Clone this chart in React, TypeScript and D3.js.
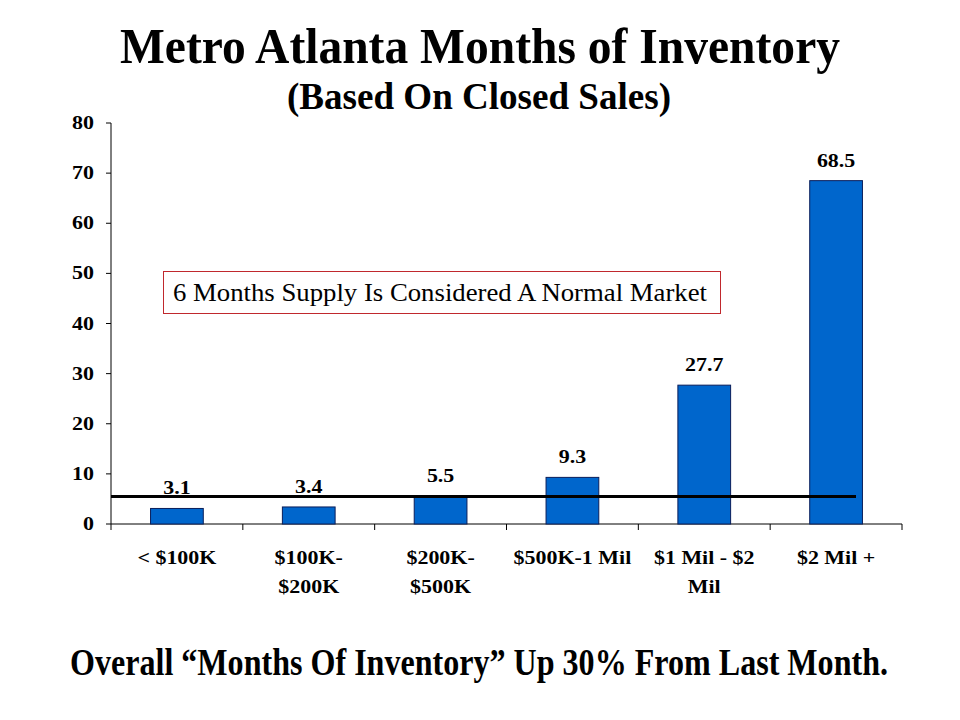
import React from "react";
import * as d3 from "d3";

const categories: string[][] = [
  ["< $100K"],
  ["$100K-", "$200K"],
  ["$200K-", "$500K"],
  ["$500K-1 Mil"],
  ["$1 Mil - $2", "Mil"],
  ["$2 Mil +"],
];
const values: number[] = [3.1, 3.4, 5.5, 9.3, 27.7, 68.5];
const valueLabels: string[] = ["3.1", "3.4", "5.5", "9.3", "27.7", "68.5"];
const yTicks: number[] = [0, 10, 20, 30, 40, 50, 60, 70, 80];
const normalLevel = 5.5;
const title = "Metro Atlanta Months of Inventory";
const subtitle = "(Based On Closed Sales)";
const note = "6 Months Supply Is Considered A Normal Market";
const footer = "Overall \u201CMonths Of Inventory\u201D Up 30% From Last Month.";

export default function App() {
  const W = 960, H = 720;
  const left = 111, right = 902, top = 123, bottom = 524;
  const x = d3.scaleBand<number>().domain(d3.range(values.length)).range([left, right]).padding(0);
  const y = d3.scaleLinear().domain([0, 80]).range([bottom, top]);
  const bw = x.bandwidth() * 0.4;
  const serif = "'Liberation Serif', 'Times New Roman', serif";
  const ticksX = d3.range(values.length + 1).map((i) => left + i * x.step());
  const sx = 1.22;
  const fs = 18;

  return (
    <svg width={W} height={H} style={{ position: "absolute", left: 0, top: 0, background: "#fff" }} fontFamily={serif}>
      <rect width={W} height={H} fill="#fff" />
      <text x={480} y={63} textAnchor="middle" fontWeight="bold" fontSize={50} textLength={720} lengthAdjust="spacingAndGlyphs">{title}</text>
      <text x={479} y={109} textAnchor="middle" fontWeight="bold" fontSize={37} textLength={384} lengthAdjust="spacingAndGlyphs">{subtitle}</text>

      {/* y axis */}
      <line x1={left} x2={left} y1={top} y2={bottom} stroke="#000" strokeWidth={1} />
      {yTicks.map((t) => (
        <g key={t}>
          <line x1={left - 5} x2={left} y1={y(t)} y2={y(t)} stroke="#000" />
          <text transform={`translate(${left - 17},${y(t) + 6}) scale(${sx},1)`} textAnchor="end" fontWeight="bold" fontSize={fs}>{t}</text>
        </g>
      ))}
      {/* x axis */}
      <line x1={left} x2={right} y1={bottom} y2={bottom} stroke="#000" />
      {ticksX.map((tx, i) => (
        <line key={i} x1={tx} x2={tx} y1={bottom} y2={bottom + 6} stroke="#000" />
      ))}
      {categories.map((lines, i) => {
        const cx = (x(i) as number) + x.bandwidth() / 2;
        return lines.map((l, j) => (
          <text key={`${i}-${j}`} transform={`translate(${cx},${564 + j * 29}) scale(${sx},1)`} textAnchor="middle" fontWeight="bold" fontSize={fs}>{l}</text>
        ));
      })}

      {/* bars */}
      {values.map((v, i) => {
        const cx = (x(i) as number) + x.bandwidth() / 2;
        return (
          <g key={i}>
            <rect x={cx - bw / 2} y={y(v)} width={bw} height={bottom - y(v)} fill="#0066CC" stroke="#0A1E5A" strokeWidth={1} />
            <text transform={`translate(${cx},${y(v) - 14}) scale(${sx},1)`} textAnchor="middle" fontWeight="bold" fontSize={fs}>{valueLabels[i]}</text>
          </g>
        );
      })}

      {/* normal level line */}
      <line x1={left} x2={856} y1={y(normalLevel)} y2={y(normalLevel)} stroke="#000" strokeWidth={3} />

      {/* note box */}
      <rect x={163.5} y={271.5} width={557} height={42} fill="#fff" stroke="#C0282D" strokeWidth={1} />
      <text x={173} y={301} fontFamily="'Liberation Serif', serif" fontSize={25} textLength={534} lengthAdjust="spacingAndGlyphs">{note}</text>

      <text transform="translate(479,675) scale(1,1.2)" textAnchor="middle" fontWeight="bold" fontSize={31} textLength={818} lengthAdjust="spacingAndGlyphs">{footer}</text>
    </svg>
  );
}
